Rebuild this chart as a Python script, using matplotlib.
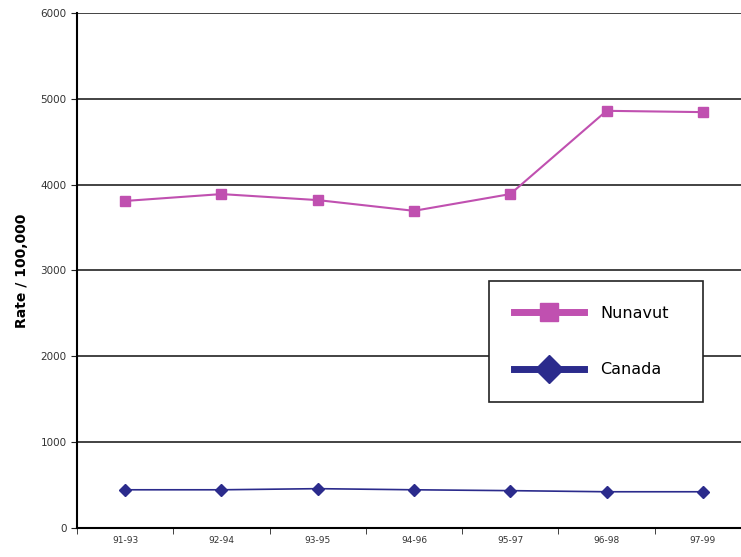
import numpy as np
import matplotlib.pyplot as plt
from matplotlib.lines import Line2D

# Periods and rates per 100,000
periods = ['91-93', '92-94', '93-95', '94-96', '95-97', '96-98', '97-99']
nunavut = [3810, 3890, 3820, 3695, 3890, 4860, 4845]
canada = [445, 445, 458, 445, 435, 422, 422]

pink = '#c050b0'
navy = '#2b2b8c'

fig = plt.figure(figsize=(7.41, 5.57), dpi=100)
ax = fig.add_axes([0.1039, 0.0521, 0.9096, 0.9246])

x = np.arange(len(periods))
ax.plot(x, nunavut, color=pink, lw=1.5, marker='s', ms=7, mec=pink, mfc=pink)
ax.plot(x, canada, color=navy, lw=1.2, marker='D', ms=6, mec=navy, mfc=navy)

ax.set_xlim(-0.5, len(periods) - 0.5)
ax.set_ylim(0, 6000)
ax.set_yticks(np.arange(0, 6001, 1000))
ax.yaxis.grid(True, color='#222222', lw=1.2)
ax.set_axisbelow(True)

# category labels centred, ticks between categories
ax.set_xticks(x)
ax.set_xticklabels(periods, fontsize=6.5, color='#333333')
ax.tick_params(axis='x', which='major', length=0, pad=6)
ax.set_xticks(np.arange(-0.5, len(periods)), minor=True)
ax.tick_params(axis='x', which='minor', length=4, direction='out', color='#222222')
ax.tick_params(axis='y', length=4, direction='out', labelsize=7.5, labelcolor='#333333', color='#222222')

for side in ['top', 'right']:
    ax.spines[side].set_visible(False)
ax.spines['left'].set_linewidth(1.5)
ax.spines['bottom'].set_linewidth(1.5)

ax.set_ylabel('Rate / 100,000', fontsize=10, fontweight='bold', labelpad=8)

handles = [Line2D([], [], color=pink, lw=5, marker='s', ms=13, mec=pink),
           Line2D([], [], color=navy, lw=5, marker='D', ms=14, mec=navy)]
leg = fig.legend(handles, ['Nunavut', 'Canada'], loc='upper left', mode='expand',
                 bbox_to_anchor=(489 / 741, 1 - 281 / 557, 214 / 741, 0.0),
                 fontsize=11.5, frameon=True, fancybox=False, edgecolor='#222222',
                 framealpha=1.0, handlelength=4.4, labelspacing=2.6, borderpad=1.55,
                 handletextpad=1.0, borderaxespad=0)
leg.get_frame().set_linewidth(1.2)

fig.savefig('out.png', dpi=100)
